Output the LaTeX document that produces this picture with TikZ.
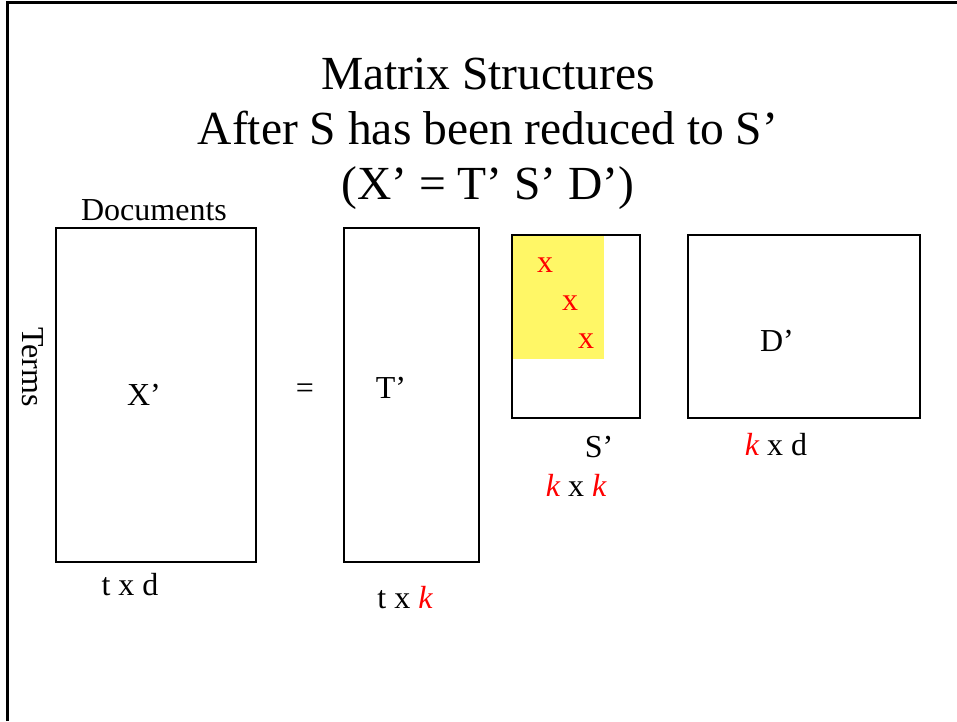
\documentclass[tikz,border=0pt]{standalone}
\usepackage{fontspec}
\setmainfont{Liberation Serif}
\begin{document}
\begin{tikzpicture}[x=1pt,y=-1pt,
  box/.style={draw=black,line width=2pt},
  lbl/.style={inner sep=0pt,anchor=base,font=\fontsize{32}{38}\selectfont},
  ttl/.style={inner sep=0pt,anchor=base,font=\fontsize{47.5}{56}\selectfont},
  red/.style={text=red}]
\useasboundingbox (0,0) rectangle (957,721);
% frame
\coordinate (ftl) at (7,2);
\coordinate (fbl) at (7,721);
\coordinate (ftr) at (957,2);
\draw[line width=3pt] (fbl) -- (ftl) -- (ftr);
% title
\node[ttl] (t1) at (488,89) {Matrix Structures};
\node[ttl] (t2) at (488,144) {After S has been reduced to S’};
\node[ttl] (t3) at (488,199) {(X’ = T’ S’ D’)};
% boxes
\fill[yellow!60!white] (512,235) rectangle (604,359);
\node[box,minimum width=200pt,minimum height=334pt,inner sep=0pt] (X) at (156,395) {};
\node[box,minimum width=135pt,minimum height=334pt,inner sep=0pt] (T) at (411.5,395) {};
\node[box,minimum width=128pt,minimum height=183pt,inner sep=0pt] (S) at (576,326.5) {};
\node[box,minimum width=232pt,minimum height=183pt,inner sep=0pt] (D) at (804,326.5) {};
% labels
\node[lbl] (docs) at (154,220) {Documents};
\node[lbl,rotate=-90,anchor=base] (terms) at (22,367) {Terms};
\node[lbl] (xl) at (144,405) {X’};
\node[lbl] (eq) at (305,398) {=};
\node[lbl] (tl) at (391,398) {T’};
\node[lbl] (dl) at (777,351) {D’};
\node[lbl,red] (x1) at (545,272) {x};
\node[lbl,red] (x2) at (570,310) {x};
\node[lbl,red] (x3) at (586,348) {x};
\node[lbl] (sl) at (599,457) {S’};
\node[lbl] (kk) at (576,496) {\textcolor{red}{\itshape k} x \textcolor{red}{\itshape k}};
\node[lbl] (kd) at (776,455) {\textcolor{red}{\itshape k} x d};
\node[lbl] (td) at (130,595) {t x d};
\node[lbl] (tk) at (405,608) {t x \textcolor{red}{\itshape k}};
\end{tikzpicture}
\end{document}
